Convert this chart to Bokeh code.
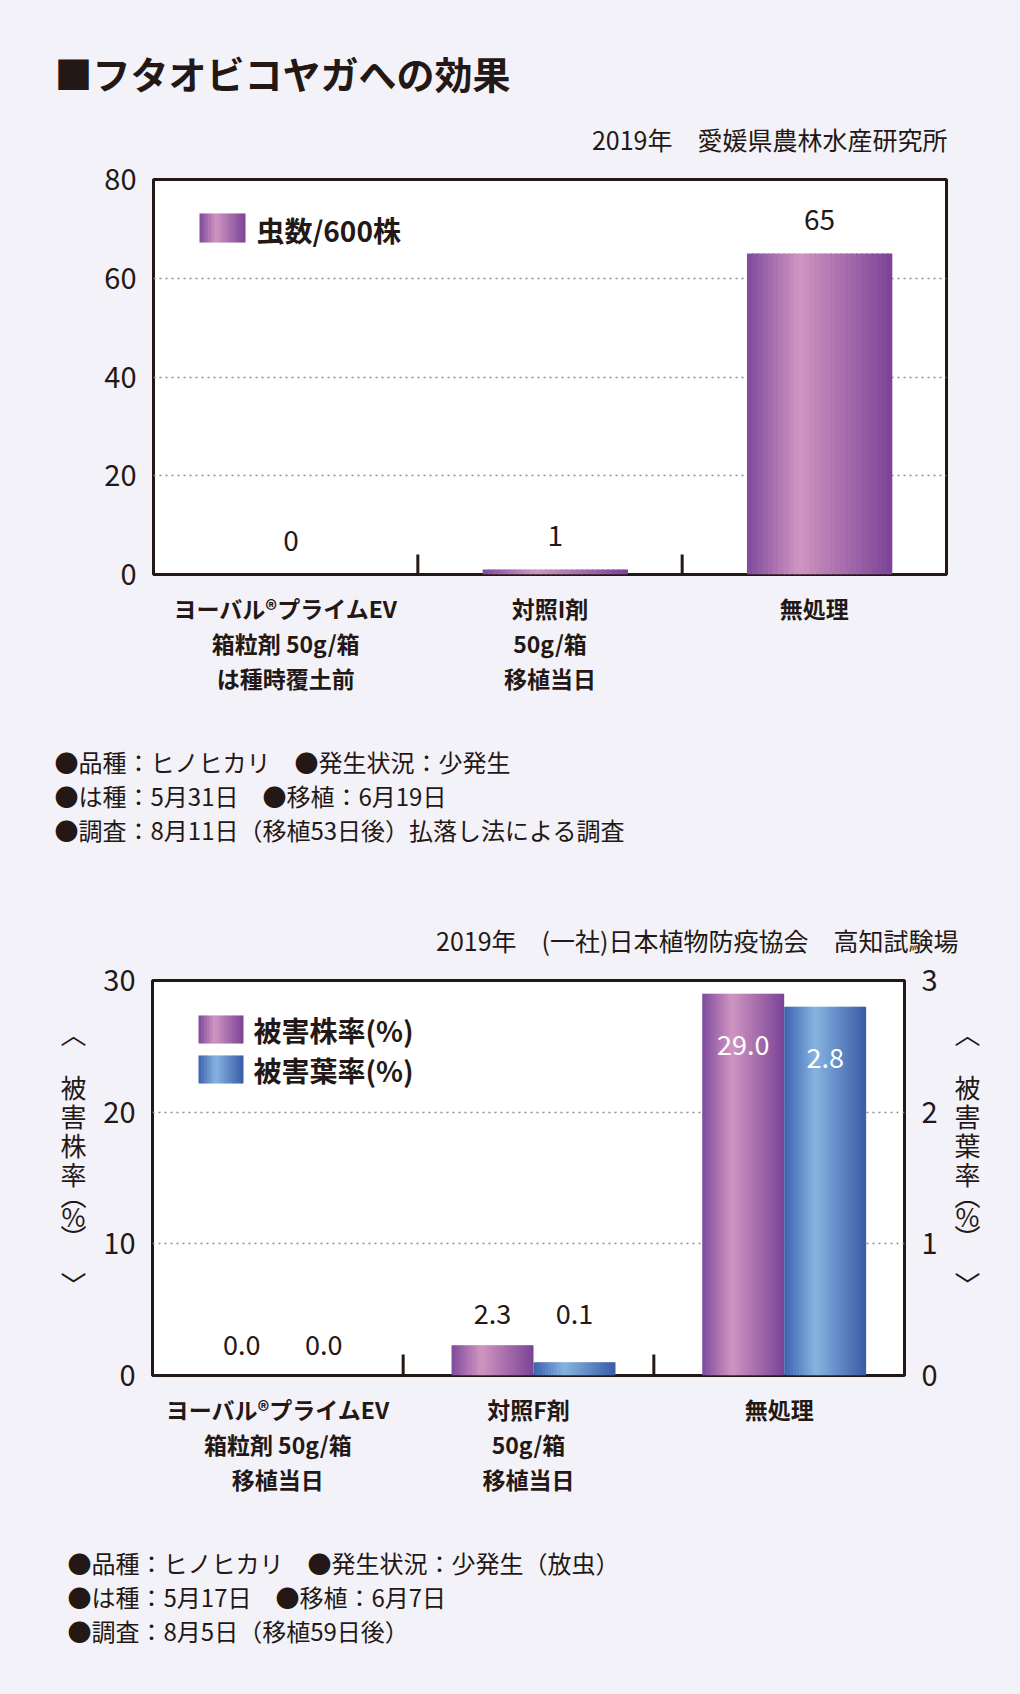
import math
from bokeh.plotting import figure
from bokeh.layouts import row
from bokeh.models import (FactorRange, Range1d, LinearAxis, Label, BoxAnnotation, ColumnDataSource,
                          GlobalInlineStyleSheet)
from bokeh.transform import dodge
from bokeh.embed import file_html
from bokeh.resources import INLINE
from bokeh.core.properties import value

# ---------------- data ----------------
title_text = "■フタオビコヤガへの効果"

c1_source = "2019年　愛媛県農林水産研究所"
c1_categories = ["ヨーバル®プライムEV\n箱粒剤 50g/箱\nは種時覆土前", "対照I剤\n50g/箱\n移植当日", "無処理"]
c1_values = [0, 1, 65]
c1_labels = ["0", "1", "65"]
c1_series = "虫数/600株"
c1_yticks = [0, 20, 40, 60, 80]
c1_notes = ["●品種：ヒノヒカリ　●発生状況：少発生",
            "●は種：5月31日　●移植：6月19日",
            "●調査：8月11日（移植53日後）払落し法による調査"]

c2_source = "2019年　(一社)日本植物防疫協会　高知試験場"
c2_categories = ["ヨーバル®プライムEV\n箱粒剤 50g/箱\n移植当日", "対照F剤\n50g/箱\n移植当日", "無処理"]
c2_plant = [0.0, 2.3, 29.0]
c2_leaf = [0.0, 0.1, 2.8]
c2_plant_labels = ["0.0", "2.3", "29.0"]
c2_leaf_labels = ["0.0", "0.1", "2.8"]
c2_series = ["被害株率(%)", "被害葉率(%)"]
c2_left_ticks = [0, 10, 20, 30]
c2_right_ticks = [0, 1, 2, 3]
c2_left_title = ["︿", "被", "害", "株", "率", "︵", "%", "︶", "﹀"]
c2_right_title = ["︿", "被", "害", "葉", "率", "︵", "%", "︶", "﹀"]
c2_notes = ["●品種：ヒノヒカリ　●発生状況：少発生（放虫）",
            "●は種：5月17日　●移植：6月7日",
            "●調査：8月5日（移植59日後）"]

# ---------------- style ----------------
FONT = "Noto Sans CJK JP"
INK = "#231815"
BG = "#f3f2f8"
GRID = "#8e8e8e"
PURPLE = [(0.0, "#7e4a9b"), (0.36, "#d095c1"), (1.0, "#7a4396")]
BLUE = [(0.0, "#3e62ad"), (0.38, "#86b4e1"), (1.0, "#3a5aa6")]
W = 1004


def hex2rgb(h):
    return tuple(int(h[i:i + 2], 16) for i in (1, 3, 5))


def grad(stops, t):
    for (t0, c0), (t1, c1) in zip(stops, stops[1:]):
        if t <= t1:
            f = (t - t0) / (t1 - t0)
            a, b = hex2rgb(c0), hex2rgb(c1)
            return "#%02x%02x%02x" % tuple(round(x + (y - x) * f) for x, y in zip(a, b))
    return stops[-1][1]


def no_align(p):
    if "frame_align" in p.properties():
        p.frame_align = False


def style(p):
    no_align(p)
    p.background_fill_color = "white"
    p.border_fill_color = BG
    p.outline_line_color = INK
    p.outline_line_width = 3
    p.xgrid.grid_line_color = None
    p.ygrid.grid_line_color = GRID
    p.ygrid.grid_line_dash = "2 4"
    p.ygrid.grid_line_width = 1.5
    xa = p.xaxis[0]
    xa.axis_line_color = None
    xa.major_tick_line_color = None
    xa.minor_tick_line_color = None
    xa.major_label_text_font = FONT
    xa.major_label_text_font_size = "23px"
    xa.major_label_text_font_style = "bold"
    xa.major_label_text_color = INK
    xa.major_label_text_line_height = 1.04
    xa.major_label_standoff = 10


def style_yaxis(ax):
    ax.axis_line_color = None
    ax.major_tick_line_color = None
    ax.minor_tick_line_color = None
    ax.major_label_text_font = FONT
    ax.major_label_text_font_size = "29px"
    ax.major_label_text_color = INK
    ax.major_label_standoff = 11


def text_fig(w, h, bt=0, bb=0):
    f = figure(width=w, height=h, x_range=Range1d(0, 1), y_range=Range1d(0, 1),
               x_axis_type=None, y_axis_type=None, output_backend="svg", toolbar_location=None,
               min_border_left=0, min_border_right=0, min_border_top=bt, min_border_bottom=bb)
    no_align(f)
    f.outline_line_color = None
    f.background_fill_color = BG
    f.border_fill_color = BG
    return f


def add_text(p, fl, fb, px, py, text, size, align="left", bold=False, color=INK):
    p.add_layout(Label(x=px - fl, y=fb - py, x_units="screen", y_units="screen", text=text,
                       text_font=FONT, text_font_size=size, text_align=align,
                       text_baseline="middle", text_color=color,
                       text_font_style="bold" if bold else "normal"))


def swatch(p, fl, fb, x0, y0, x1, y1, stops, n=16):
    w = (x1 - x0) / n
    for i in range(n):
        c = grad(stops, (i + 0.5) / n)
        p.add_layout(BoxAnnotation(left=x0 - fl + i * w, right=x0 - fl + (i + 1) * w + (0.8 if i < n - 1 else 0),
                                   bottom=fb - y1, top=fb - y0,
                                   left_units="screen", right_units="screen",
                                   top_units="screen", bottom_units="screen",
                                   fill_color=c, fill_alpha=1, line_color=None))


def gradient_bars(p, src, col, center, width, stops, n=28, **kw):
    s = width / n
    ov = s * 0.35
    left = center - width / 2
    for i in range(n):
        t = (i + 0.5) / n
        ww = s + (ov if i < n - 1 else 0)
        off = left + i * s + ww / 2
        p.vbar(x=dodge("cat", off, range=p.x_range), top=col, width=ww,
               source=src, fill_color=grad(stops, t), line_color=None, **kw)


# ================= header (title + source 1) =================
Y_P1 = 157
h1 = text_fig(W, Y_P1)
h1.stylesheets = [GlobalInlineStyleSheet(css="html, body { background: %s; }" % BG)]
add_text(h1, 0, Y_P1, 54, 72, title_text, "38px", bold=True)
add_text(h1, 0, Y_P1, 947, 138, c1_source, "25px", align="right")

# ================= chart 1 =================
FB1 = 574
p1 = figure(width=W, height=563, x_range=FactorRange(*c1_categories), y_range=Range1d(0, c1_yticks[-1]),
            output_backend="svg", toolbar_location=None,
            min_border_left=153, min_border_right=58, min_border_top=179 - Y_P1, min_border_bottom=146)
style(p1)
style_yaxis(p1.yaxis[0])
p1.yaxis[0].ticker = c1_yticks

src1 = ColumnDataSource(dict(cat=c1_categories, val=c1_values, lab=c1_labels))
gradient_bars(p1, src1, "val", 0.02, 0.55, PURPLE)
p1.text(x=dodge("cat", 0.02, range=p1.x_range), y="val", text="lab", source=src1,
        y_offset=-34, text_align="center", text_baseline="middle",
        text_font=value(FONT), text_font_size="28px", text_color=INK)

bsrc1 = ColumnDataSource(dict(cat=c1_categories[:-1]))
p1.ray(x=dodge("cat", 0.5, range=p1.x_range), y=0, length=20, length_units="screen",
       angle=math.pi / 2, line_color=INK, line_width=3, source=bsrc1)

swatch(p1, 153, FB1, 199, 213, 245, 242, PURPLE)
add_text(p1, 153, FB1, 256, 229, c1_series, "28px", bold=True)

# ================= notes 1 + source 2 =================
Y_N1 = 720
Y_ROW = 958
n1 = text_fig(W, Y_ROW - Y_N1)
for i, line in enumerate(c1_notes):
    add_text(n1, 0, Y_ROW, 54, 761 + 34 * i, line, "24px")
add_text(n1, 0, Y_ROW, 958, 939, c2_source, "25px", align="right")

# ================= chart 2 =================
FL2, FB2 = 151, 1375
Y_N2 = 1510
RH = Y_N2 - Y_ROW
p2 = figure(width=840, height=RH, x_range=FactorRange(*c2_categories), y_range=Range1d(0, c2_left_ticks[-1]),
            output_backend="svg", toolbar_location=None,
            min_border_left=51, min_border_right=35, min_border_top=980 - Y_ROW, min_border_bottom=Y_N2 - FB2)
p2.extra_y_ranges = {"leaf": Range1d(0, c2_right_ticks[-1])}
p2.add_layout(LinearAxis(y_range_name="leaf"), "right")
style(p2)
for ax in p2.yaxis:
    style_yaxis(ax)
p2.yaxis[0].ticker = c2_left_ticks
p2.yaxis[1].ticker = c2_right_ticks

scale = c2_left_ticks[-1] / c2_right_ticks[-1]
inside = [max(a, b * scale) > c2_left_ticks[-1] / 2 for a, b in zip(c2_plant, c2_leaf)]
pair_top = [max(a, b * scale) for a, b in zip(c2_plant, c2_leaf)]

src2 = ColumnDataSource(dict(
    cat=c2_categories, plant=c2_plant, leaf=c2_leaf,
    plab=c2_plant_labels, llab=c2_leaf_labels,
    py=[a if ins else t for a, ins, t in zip(c2_plant, inside, pair_top)],
    ly=[b * scale if ins else t for b, ins, t in zip(c2_leaf, inside, pair_top)],
    yoff=[51 if ins else -31 for ins in inside],
    tcol=["white" if ins else INK for ins in inside],
))
BW = 0.327
SH = 0.02
gradient_bars(p2, src2, "plant", SH - BW / 2, BW, PURPLE)
gradient_bars(p2, src2, "leaf", SH + BW / 2, BW, BLUE, y_range_name="leaf")
for ycol, tcol, off in (("py", "plab", SH - BW / 2), ("ly", "llab", SH + BW / 2)):
    p2.text(x=dodge("cat", off, range=p2.x_range), y=ycol, text=tcol, source=src2,
            y_offset="yoff", text_align="center", text_baseline="middle",
            text_font=value(FONT), text_font_size="27px", text_color="tcol")

bsrc2 = ColumnDataSource(dict(cat=c2_categories[:-1]))
p2.ray(x=dodge("cat", 0.5, range=p2.x_range), y=0, length=21, length_units="screen",
       angle=math.pi / 2, line_color=INK, line_width=3, source=bsrc2)

swatch(p2, FL2, FB2, 197, 1015, 242, 1043, PURPLE)
swatch(p2, FL2, FB2, 197, 1055, 242, 1083, BLUE)
add_text(p2, FL2, FB2, 252, 1029, c2_series[0], "28px", bold=True)
add_text(p2, FL2, FB2, 252, 1069, c2_series[1], "28px", bold=True)

# side titles (vertical writing)
title_y = [1032, 1086, 1115, 1144, 1173, 1194, 1215, 1236, 1283]
L = text_fig(100, RH, bt=980 - Y_ROW, bb=Y_N2 - FB2)
R = text_fig(64, RH, bt=980 - Y_ROW, bb=Y_N2 - FB2)
for ch, ty in zip(c2_left_title, title_y):
    add_text(L, 0, FB2, 73, ty, ch, "26px", align="center")
for ch, ty in zip(c2_right_title, title_y):
    add_text(R, 940, FB2, 967, ty, ch, "26px", align="center")

# ================= notes 2 =================
H_N2 = 1678 - Y_N2
n2 = text_fig(W, H_N2)
for i, line in enumerate(c2_notes):
    add_text(n2, 0, 1678, 67, 1562 + 34 * i, line, "24px")

roots = [h1, p1, n1, row(L, p2, R, spacing=0), n2]
open("out.html", "w").write(file_html(roots, INLINE))
